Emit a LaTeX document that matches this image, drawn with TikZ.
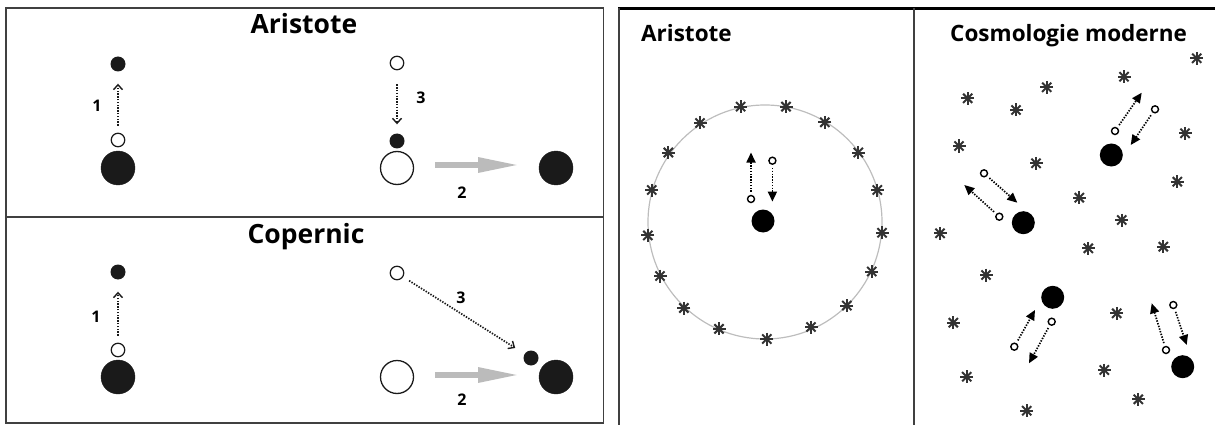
\documentclass[tikz,border=0pt]{standalone}
\usepackage{fontspec}
\setmainfont{Open Sans}
\usetikzlibrary{arrows.meta}
\definecolor{ink}{HTML}{1A1A1A}
\definecolor{framec}{HTML}{404040}
\definecolor{stargray}{HTML}{333333}
\definecolor{ringgray}{HTML}{BDBDBD}
\definecolor{arrowgray}{HTML}{BBBBBB}
\begin{document}
\begin{tikzpicture}[x=1pt,y=-1pt,
  bigfill/.style={circle,fill=ink,draw=ink,minimum size=34pt,inner sep=0pt},
  bigopen/.style={circle,draw=ink,line width=1.3pt,fill=white,minimum size=33pt,inner sep=0pt},
  smallfill/.style={circle,fill=ink,minimum size=15pt,inner sep=0pt},
  smallopen/.style={circle,draw=ink,line width=1.2pt,minimum size=13.5pt,inner sep=0pt},
  galaxy/.style={circle,fill=black,minimum size=23pt,inner sep=0pt},
  tinyopen/.style={circle,draw=black,line width=1.4pt,minimum size=7pt,inner sep=0pt},
  bigtitle/.style={font=\fontsize{26.5}{30}\selectfont\bfseries,anchor=base,inner sep=0pt},
  smalltitle/.style={font=\fontsize{22.5}{26}\selectfont\bfseries,anchor=base west,inner sep=0pt},
  numlabel/.style={font=\fontsize{16}{18}\selectfont\bfseries,inner sep=0pt},
  dotarrow/.style={ink,line width=1.7pt,dash pattern=on 1.4pt off 1.4pt,
     -{Straight Barb[length=5pt,width=9pt,line width=1.4pt]}},
  grayarrow/.style={arrowgray,line width=6pt,-{Triangle[length=42pt,width=14pt]}},
  cosarrow/.style={black,line width=1.7pt,dash pattern=on 1.4pt off 1.4pt,
     -{Triangle[length=10pt,width=9pt]},shorten <=3pt},
  astr/.pic={\foreach \a in {0,45,90,135}
     \draw[stargray,line width=2pt] (\a:6.5pt) -- (\a+180:6.5pt);}
]
\useasboundingbox (0,0) rectangle (1215,425);

% ---------- left panel frame ----------
\draw[framec,line width=1.8pt] (6,8) rectangle (603.5,423);
\draw[framec,line width=1.8pt] (6,217) -- (603.5,217);

% ---------- Aristote (top left) ----------
\node[bigtitle] (tA) at (304,34) {Aristote};
\node[smallfill] (f1) at (118,64) {};
\node[smallopen] (o1) at (118,140) {};
\node[bigfill] (B1) at (118,168) {};
\draw[dotarrow,shorten <=7pt,shorten >=12pt] (o1) -- (f1);
\node[numlabel] (n1) at (97,106) {1};

\node[smallopen] (o3) at (397,63) {};
\node[smallfill] (f3) at (397,141) {};
\node[bigopen] (E1) at (397,168) {};
\draw[dotarrow,shorten <=14pt,shorten >=9pt] (o3) -- (f3);
\node[numlabel] (n3) at (421,98) {3};

\node[bigfill] (S1) at (556,168) {};
\draw[grayarrow,shorten <=38pt,shorten >=36pt] ([yshift=3pt]E1.center) -- ([yshift=3pt]S1.center);
\node[numlabel] (n2) at (462,193) {2};

% ---------- Copernic (bottom left) ----------
\node[bigtitle] (tC) at (306,243) {Copernic};
\node[smallfill] (f1b) at (118,272) {};
\node[smallopen] (o1b) at (118,350) {};
\node[bigfill] (B1b) at (118,377) {};
\draw[dotarrow,shorten <=7pt,shorten >=12pt] (o1b) -- (f1b);
\node[numlabel] (n1b) at (96,317) {1};

\node[smallopen] (o3b) at (397,273) {};
\node[smallfill] (f3b) at (531,358) {};
\draw[dotarrow,shorten <=7pt,shorten >=11pt] (o3b) -- (f3b);
\node[numlabel] (n3b) at (461,298) {3};

\node[bigopen] (E2) at (397,377) {};
\node[bigfill] (S2) at (556,377) {};
\draw[grayarrow,shorten <=38pt,shorten >=36pt] ([yshift=2pt]E2.center) -- ([yshift=2pt]S2.center);
\node[numlabel] (n2b) at (462,400) {2};

% ---------- right panel frame ----------
\draw[black,line width=3pt] (618,9) -- (1215,9);
\draw[framec,line width=2pt] (619,8) -- (619,425);
\draw[framec,line width=2pt] (914,8) -- (914,425);

% ---------- Aristote (right) ----------
\node[smalltitle] (tAr) at (641,42) {Aristote};
\draw[ringgray,line width=1.2pt] (765,222) circle[radius=117];
\foreach \p in {(740.6,106.6),(786,106.6),(824.8,122.3),(700,123),(668.4,152.5),
  (858.3,152.5),(651.7,190),(877.3,190),(647.8,235.4),(882,232.8),(660,276),
  (871.7,271.5),(683.9,308),(846.8,305.6),(719,328.9),(811,327),(766.8,339)}
  \pic at \p {astr};
\node[galaxy] (gA) at (763,221) {};
\node[tinyopen] (oA1) at (751,199) {};
\coordinate (tA1) at (751,152.5);
\draw[cosarrow] (oA1) -- (tA1);
\node[tinyopen] (oA2) at (772.4,160.7) {};
\coordinate (tA2) at (772.4,201.6);
\draw[cosarrow] (oA2) -- (tA2);

% ---------- Cosmologie moderne ----------
\node[smalltitle] (tM) at (950,42) {Cosmologie moderne};
\foreach \p in {(1196.7,58.3),(1124,76.7),(1046.7,87.3),(967.7,98.3),(1016,110),
  (1185,133.3),(959,146),(1036,163.3),(1177.3,181.7),(1079.3,197.7),(1121.7,220),
  (940,233.3),(1088.3,248.3),(1163.3,246.7),(986,275),(1116.7,313.3),(953.3,322.7),
  (1104.3,370),(966.7,376.7),(1138.3,399.3),(1026.7,410.7)}
  \pic at \p {astr};

\node[galaxy] (g1) at (1111.3,155) {};
\node[tinyopen] (o1a) at (1115,131) {};
\coordinate (t1a) at (1141.7,92.7);
\draw[cosarrow] (o1a) -- (t1a);
\node[tinyopen] (o1c) at (1155,109.3) {};
\coordinate (t1c) at (1130.7,145);
\draw[cosarrow] (o1c) -- (t1c);

\node[galaxy] (g2) at (1023.3,222.7) {};
\node[tinyopen] (o2a) at (999.3,216.7) {};
\coordinate (t2a) at (964.3,185);
\draw[cosarrow] (o2a) -- (t2a);
\node[tinyopen] (o2c) at (984,173.3) {};
\coordinate (t2c) at (1017.3,202.7);
\draw[cosarrow] (o2c) -- (t2c);

\node[galaxy] (g3) at (1052.7,297.3) {};
\node[tinyopen] (o3a) at (1014.3,346.7) {};
\coordinate (t3a) at (1035,310);
\draw[cosarrow] (o3a) -- (t3a);
\node[tinyopen] (o3c) at (1051.7,321.7) {};
\coordinate (t3c) at (1029,363.3);
\draw[cosarrow] (o3c) -- (t3c);

\node[galaxy] (g4) at (1182.7,366.7) {};
\node[tinyopen] (o4a) at (1166,350) {};
\coordinate (t4a) at (1151.7,303.3);
\draw[cosarrow] (o4a) -- (t4a);
\node[tinyopen] (o4c) at (1173.3,305) {};
\coordinate (t4c) at (1186.7,345);
\draw[cosarrow] (o4c) -- (t4c);
\end{tikzpicture}
\end{document}
